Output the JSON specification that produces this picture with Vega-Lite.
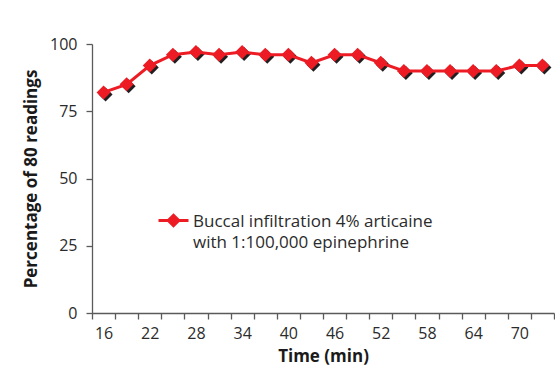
{
  "$schema": "https://vega.github.io/schema/vega-lite/v6.json",
  "width": 462,
  "height": 269,
  "autosize": {"type": "none"},
  "padding": {"left": 92, "top": 44, "right": 1, "bottom": 66},
  "background": "white",
  "config": {
    "view": {"stroke": null},
    "font": "Open Sans",
    "axis": {
      "domainColor": "#5a5a5a",
      "tickColor": "#5a5a5a",
      "domainWidth": 1.3,
      "tickWidth": 1.3,
      "tickSize": 6,
      "labelColor": "#2b2b2b",
      "labelFont": "Open Sans",
      "labelFontSize": 16,
      "titleFont": "Open Sans",
      "titleFontWeight": "bold",
      "titleFontSize": 17,
      "titleColor": "#1a1a1a",
      "grid": false
    }
  },
  "data": {
    "values": [
      {"time": 16, "pct": 82, "series": "Buccal infiltration 4% articaine|with 1:100,000 epinephrine"},
      {"time": 19, "pct": 85, "series": "Buccal infiltration 4% articaine|with 1:100,000 epinephrine"},
      {"time": 22, "pct": 92, "series": "Buccal infiltration 4% articaine|with 1:100,000 epinephrine"},
      {"time": 25, "pct": 96, "series": "Buccal infiltration 4% articaine|with 1:100,000 epinephrine"},
      {"time": 28, "pct": 97, "series": "Buccal infiltration 4% articaine|with 1:100,000 epinephrine"},
      {"time": 31, "pct": 96, "series": "Buccal infiltration 4% articaine|with 1:100,000 epinephrine"},
      {"time": 34, "pct": 97, "series": "Buccal infiltration 4% articaine|with 1:100,000 epinephrine"},
      {"time": 37, "pct": 96, "series": "Buccal infiltration 4% articaine|with 1:100,000 epinephrine"},
      {"time": 40, "pct": 96, "series": "Buccal infiltration 4% articaine|with 1:100,000 epinephrine"},
      {"time": 43, "pct": 93, "series": "Buccal infiltration 4% articaine|with 1:100,000 epinephrine"},
      {"time": 46, "pct": 96, "series": "Buccal infiltration 4% articaine|with 1:100,000 epinephrine"},
      {"time": 49, "pct": 96, "series": "Buccal infiltration 4% articaine|with 1:100,000 epinephrine"},
      {"time": 52, "pct": 93, "series": "Buccal infiltration 4% articaine|with 1:100,000 epinephrine"},
      {"time": 55, "pct": 90, "series": "Buccal infiltration 4% articaine|with 1:100,000 epinephrine"},
      {"time": 58, "pct": 90, "series": "Buccal infiltration 4% articaine|with 1:100,000 epinephrine"},
      {"time": 61, "pct": 90, "series": "Buccal infiltration 4% articaine|with 1:100,000 epinephrine"},
      {"time": 64, "pct": 90, "series": "Buccal infiltration 4% articaine|with 1:100,000 epinephrine"},
      {"time": 67, "pct": 90, "series": "Buccal infiltration 4% articaine|with 1:100,000 epinephrine"},
      {"time": 70, "pct": 92, "series": "Buccal infiltration 4% articaine|with 1:100,000 epinephrine"},
      {"time": 73, "pct": 92, "series": "Buccal infiltration 4% articaine|with 1:100,000 epinephrine"}
    ]
  },
  "encoding": {
    "x": {
      "field": "time",
      "type": "ordinal",
      "bandPosition": 0.5,
      "scale": {"type": "band", "paddingInner": 0, "paddingOuter": 0},
      "title": "Time (min)",
      "axis": {
        "tickBand": "extent",
        "labelAngle": 0,
        "labelOverlap": false,
        "labelPadding": 6,
        "titlePadding": 7,
        "labelExpr": "(datum.value - 16) % 6 == 0 ? datum.label : ''"
      }
    },
    "y": {
      "field": "pct",
      "type": "quantitative",
      "scale": {"domain": [0, 100], "nice": false, "zero": true},
      "title": "Percentage of 80 readings",
      "axis": {
        "values": [0, 25, 50, 75, 100],
        "labelPadding": 9,
        "titlePadding": 9
      }
    }
  },
  "layer": [
    {
      "mark": {"type": "point", "shape": "diamond", "filled": true, "size": 196, "color": "#231f20", "opacity": 1, "xOffset": 2, "yOffset": 2}
    },
    {
      "mark": {"type": "line", "strokeWidth": 3},
      "encoding": {
        "color": {
          "field": "series",
          "type": "nominal",
          "scale": {"range": ["#ED1C24"]},
          "legend": {
            "title": null,
            "orient": "none",
            "legendX": 65,
            "legendY": 160,
            "padding": 0,
            "symbolType": "M-1,0H1M0,-0.35L0.35,0L0,0.35L-0.35,0Z",
            "symbolSize": 900,
            "symbolStrokeWidth": 3,
            "symbolStrokeColor": "#ED1C24",
            "symbolFillColor": "#ED1C24",
            "labelFont": "Open Sans",
            "labelFontSize": 17,
            "labelColor": "#2b2b2b",
            "labelOffset": 3,
            "labelLimit": 400,
            "labelExpr": "split(datum.label, '|')",
            "labelBaseline": "alphabetic",
            "encode": {
              "labels": {"update": {"lineHeight": {"value": 21.5}, "dy": {"value": 6}}},
              "symbols": {"update": {"fill": {"value": "#ED1C24"}, "stroke": {"value": "#ED1C24"}}}
            }
          }
        }
      }
    },
    {
      "mark": {"type": "point", "shape": "diamond", "filled": true, "size": 196, "color": "#ED1C24", "opacity": 1}
    }
  ]
}
